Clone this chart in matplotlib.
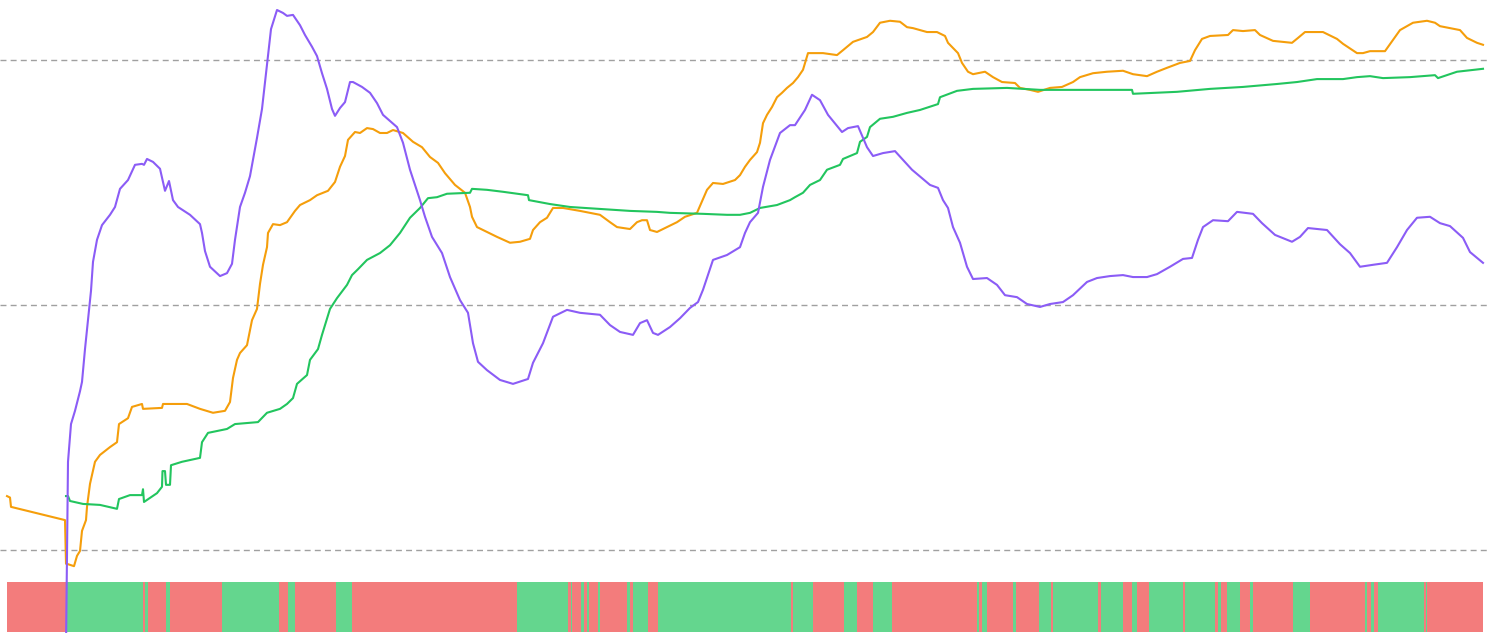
import matplotlib
matplotlib.use("Agg")
import matplotlib.pyplot as plt
import numpy as np

# ---------------- data ----------------
# time index (days from start of the view)
orange_x = [0, 3, 4, 58, 59, 61, 67, 70, 73, 75, 79, 80, 83, 88, 93, 103, 110, 112, 121, 125, 135, 136, 155, 156, 163, 180, 193, 206, 218, 223, 226, 230, 233, 240, 245, 250, 253, 256, 260, 261, 266, 273, 280, 288, 293, 303, 310, 321, 328, 333, 338, 341, 348, 353, 360, 366, 373, 380, 386, 396, 406, 415, 423, 431, 438, 448, 458, 463, 465, 470, 476, 490, 503, 513, 523, 526, 533, 540, 546, 556, 573, 593, 603, 610, 623, 630, 635, 640, 643, 650, 660, 670, 678, 690, 700, 706, 716, 728, 733, 738, 743, 750, 753, 756, 760, 765, 770, 775, 780, 786, 791, 796, 801, 806, 816, 830, 836, 846, 860, 866, 873, 883, 893, 900, 906, 920, 930, 938, 941, 951, 955, 961, 966, 978, 986, 995, 1008, 1013, 1023, 1031, 1043, 1055, 1066, 1073, 1086, 1100, 1116, 1126, 1140, 1150, 1160, 1173, 1183, 1188, 1195, 1203, 1221, 1226, 1236, 1248, 1253, 1266, 1285, 1291, 1298, 1316, 1330, 1336, 1350, 1356, 1363, 1378, 1386, 1393, 1406, 1420, 1428, 1433, 1453, 1460, 1470, 1476]
orange_y = [11.0, 10.7, 8.8, 6.1, -2.8, -2.9, -3.3, -1.2, -0.2, 3.9, 6.1, 8.8, 13.5, 18.0, 19.4, 21.0, 22.0, 25.7, 26.9, 29.2, 29.8, 28.8, 29.0, 29.8, 29.8, 29.8, 28.8, 28.0, 28.4, 30.2, 35.1, 38.8, 40.2, 41.8, 46.9, 49.2, 54.3, 58.2, 61.8, 64.7, 66.5, 66.3, 66.9, 69.2, 70.4, 71.4, 72.4, 73.3, 75.1, 78.2, 80.4, 83.7, 85.3, 85.1, 86.1, 85.9, 85.1, 85.1, 85.7, 85.1, 83.3, 82.2, 80.2, 79.0, 76.9, 74.5, 72.9, 70.0, 68.0, 65.9, 65.3, 63.9, 62.7, 62.9, 63.5, 65.3, 66.9, 67.8, 69.8, 69.8, 69.2, 68.4, 66.9, 65.9, 65.5, 66.9, 67.3, 67.3, 65.3, 64.9, 65.9, 66.9, 68.0, 68.8, 73.5, 74.9, 74.7, 75.5, 76.5, 78.2, 79.6, 81.2, 83.1, 87.1, 88.8, 90.4, 92.4, 93.3, 94.3, 95.3, 96.5, 98.0, 101.4, 101.4, 101.4, 101.0, 102.0, 103.7, 104.7, 105.7, 107.6, 108.0, 107.8, 106.7, 106.5, 105.7, 105.7, 104.9, 103.5, 101.4, 99.4, 97.6, 97.1, 97.6, 96.5, 95.5, 95.3, 94.3, 93.9, 93.5, 94.3, 94.5, 95.5, 96.5, 97.3, 97.6, 97.8, 97.1, 96.7, 97.6, 98.4, 99.4, 99.8, 102.0, 104.3, 104.9, 105.1, 106.1, 105.9, 106.1, 105.1, 103.9, 103.5, 104.5, 105.7, 105.7, 104.3, 103.3, 101.4, 101.4, 101.8, 101.8, 104.1, 106.1, 107.6, 108.0, 107.6, 106.9, 106.1, 104.5, 103.5, 103.1]

green_x = [59, 61, 63, 76, 93, 110, 112, 123, 135, 136, 137, 150, 155, 155.5, 158, 159, 163, 164, 175, 193, 195, 201, 220, 228, 251, 260, 273, 280, 286, 290, 300, 303, 311, 315, 323, 330, 340, 345, 351, 360, 373, 383, 393, 403, 413, 421, 430, 440, 463, 465, 480, 496, 521, 522, 543, 563, 593, 623, 650, 663, 696, 720, 733, 743, 753, 770, 783, 788, 796, 803, 813, 820, 833, 836, 850, 853, 860, 863, 873, 886, 900, 913, 931, 933, 950, 966, 1000, 1033, 1066, 1125, 1126, 1170, 1203, 1236, 1270, 1290, 1310, 1336, 1350, 1363, 1376, 1403, 1428, 1431, 1450, 1476]
green_y = [11.0, 11.0, 10.0, 9.4, 9.2, 8.4, 10.4, 11.2, 11.2, 12.4, 9.8, 11.6, 12.9, 16.1, 16.1, 13.3, 13.3, 17.3, 18.0, 18.8, 22.0, 23.9, 24.7, 25.7, 26.1, 28.0, 28.8, 29.8, 31.0, 33.9, 35.7, 38.8, 41.0, 43.9, 49.2, 51.4, 54.1, 56.1, 57.3, 59.2, 60.6, 62.2, 64.7, 67.8, 69.8, 71.8, 72.0, 72.7, 72.9, 73.7, 73.5, 73.1, 72.4, 71.4, 70.6, 70.0, 69.6, 69.2, 69.0, 68.8, 68.6, 68.4, 68.4, 68.8, 69.8, 70.4, 71.4, 72.0, 72.9, 74.5, 75.5, 77.6, 78.6, 79.8, 81.0, 83.3, 84.3, 86.3, 88.0, 88.4, 89.2, 89.8, 91.0, 92.4, 93.7, 94.1, 94.3, 93.9, 93.9, 93.9, 93.1, 93.5, 94.1, 94.5, 95.1, 95.5, 96.1, 96.1, 96.5, 96.7, 96.3, 96.5, 96.9, 96.3, 97.6, 98.2]

purple_x = [59, 61, 64, 68, 73, 75, 78, 81, 84, 86, 90, 95, 103, 108, 113, 121, 128, 135, 137, 140, 146, 153, 156, 158, 162, 166, 171, 183, 193, 195, 198, 203, 213, 220, 225, 228, 233, 238, 243, 250, 255, 260, 264, 270, 276, 280, 286, 293, 298, 305, 310, 315, 320, 325, 328, 333, 338, 343, 346, 355, 363, 370, 376, 390, 396, 403, 413, 418, 425, 435, 443, 453, 461, 466, 471, 480, 493, 506, 521, 526, 536, 546, 560, 573, 593, 603, 613, 626, 633, 640, 646, 651, 663, 673, 683, 691, 696, 706, 720, 733, 738, 743, 751, 756, 763, 773, 783, 788, 798, 805, 813, 821, 835, 841, 851, 860, 866, 876, 888, 896, 905, 923, 931, 936, 941, 946, 953, 960, 966, 980, 990, 998, 1010, 1020, 1033, 1043, 1056, 1066, 1080, 1090, 1103, 1116, 1126, 1140, 1150, 1163, 1176, 1185, 1191, 1196, 1206, 1221, 1230, 1246, 1255, 1268, 1285, 1293, 1301, 1320, 1333, 1343, 1353, 1366, 1380, 1390, 1400, 1410, 1423, 1433, 1443, 1456, 1463, 1476]
purple_y = [-20.0, 18.0, 25.7, 28.4, 32.4, 34.3, 41.0, 46.9, 52.9, 58.8, 63.3, 66.3, 68.4, 70.0, 73.7, 75.5, 78.6, 78.8, 78.6, 79.8, 79.2, 77.8, 75.1, 73.3, 75.3, 71.4, 70.0, 68.4, 66.5, 64.7, 61.0, 57.8, 55.9, 56.5, 58.4, 63.3, 70.0, 72.9, 76.3, 84.1, 90.0, 99.0, 106.3, 110.2, 109.6, 109.0, 109.2, 107.1, 105.1, 102.7, 100.8, 97.3, 94.1, 90.0, 88.6, 90.2, 91.4, 95.5, 95.5, 94.5, 93.3, 91.2, 88.8, 86.3, 83.1, 77.6, 71.4, 68.0, 63.9, 60.6, 55.7, 51.0, 48.4, 42.2, 38.4, 36.7, 34.7, 33.9, 34.9, 38.2, 42.2, 47.6, 49.0, 48.4, 48.0, 45.9, 44.5, 43.9, 46.3, 46.9, 44.3, 43.9, 45.5, 47.3, 49.4, 50.6, 53.1, 59.2, 60.2, 61.8, 64.7, 66.9, 68.8, 74.1, 79.6, 85.1, 86.7, 86.7, 89.8, 92.9, 91.8, 88.8, 85.3, 86.1, 86.5, 82.2, 80.4, 81.0, 81.4, 79.6, 77.6, 74.5, 73.9, 71.4, 69.8, 65.9, 62.7, 57.8, 55.3, 55.5, 54.1, 52.0, 51.6, 50.2, 49.6, 50.2, 50.6, 52.0, 54.7, 55.5, 55.9, 56.1, 55.7, 55.7, 56.3, 57.8, 59.4, 59.6, 63.3, 65.9, 67.3, 67.1, 69.0, 68.6, 66.7, 64.3, 62.9, 63.9, 65.7, 65.3, 62.4, 60.6, 57.8, 58.2, 58.6, 61.8, 65.3, 67.8, 68.0, 66.7, 66.1, 63.7, 60.8, 58.6]

# regime strip: boundaries where the state flips; first run is "down"
regime_breaks = [0, 59, 135.5, 137.5, 141, 158.5, 163, 214.5, 272, 281, 288, 329, 345, 510, 561, 563.5, 565, 574, 576.5, 579.5, 582, 591, 593, 619.5, 622.5, 626, 640.5, 650.5, 784, 786, 805.7, 836.8, 850, 866, 885, 970, 972, 975, 980, 1005.6, 1009, 1032.4, 1044, 1046, 1091, 1094, 1115.6, 1125, 1129.5, 1142, 1176, 1178, 1207.5, 1211, 1213.7, 1220.4, 1233, 1243, 1246, 1286, 1303, 1357.7, 1359.6, 1364.4, 1366.8, 1371, 1417, 1419, 1420, 1476]
regime_first = "down"

grid_values = [0, 50, 100]

# ---------------- figure ----------------
W, H = 1490, 633
fig = plt.figure(figsize=(W / 100, H / 100), dpi=100)
fig.patch.set_facecolor("white")

XLIM = (-7, 1483)
YLIM = (-16.94, 112.24)

# strip axes (bottom band)
sax = fig.add_axes([0, 1 / H, 1, 50 / H])
sax.set_xlim(*XLIM)
sax.set_ylim(0, 1)
sax.axis("off")
RED = (239 / 255, 68 / 255, 68 / 255)
GRN = (34 / 255, 197 / 255, 94 / 255)
state = 0 if regime_first == "down" else 1
for a, b in zip(regime_breaks[:-1], regime_breaks[1:]):
    sax.axvspan(a, b, ymin=0, ymax=1, color=RED if state == 0 else GRN,
                alpha=0.7, lw=0)
    state = 1 - state

# main axes
ax = fig.add_axes([0, 0, 1, 1])
ax.set_facecolor("none")
ax.set_xlim(*XLIM)
ax.set_ylim(*YLIM)
ax.axis("off")

plt.rcParams["lines.scale_dashes"] = False
for g in grid_values:
    ax.axhline(g, color="#a0a0a0", lw=1.0, linestyle=(0, (4.3, 3.0)), zorder=1)

ax.plot(orange_x, orange_y, color="#f59e0b", lw=1.5, zorder=3,
        solid_joinstyle="round")
ax.plot(green_x, green_y, color="#22c55e", lw=1.5, zorder=3,
        solid_joinstyle="round")
ax.plot(purple_x, purple_y, color="#8b5cf6", lw=1.5, zorder=4,
        solid_joinstyle="round")

fig.savefig("out.png", dpi=100, facecolor="white")
